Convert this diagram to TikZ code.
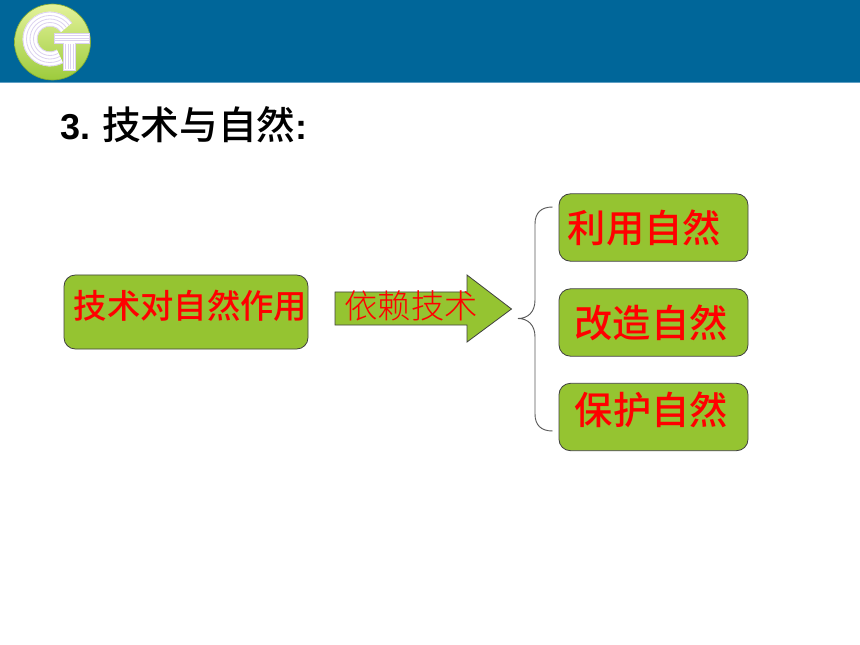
\documentclass[tikz,border=0pt]{standalone}
\usepackage{fontspec}
\setmainfont{Liberation Sans}
\newfontfamily\cjk{Noto Sans CJK SC Light}
\newfontfamily\cjkb{Noto Sans CJK SC Medium}
\definecolor{hdr}{HTML}{006699}
\definecolor{hdrl}{HTML}{5F9FC4}
\definecolor{boxg}{HTML}{95C431}
\definecolor{lav}{HTML}{DCD2F0}
\definecolor{logoa}{HTML}{E4F29A}
\definecolor{logob}{HTML}{9CCB3C}
\tikzset{
  x=0.75pt,y=-0.75pt,
  greenbox/.style={draw=black!75,line width=0.6pt,fill=boxg,rounded corners=8.5pt,inner sep=0pt,minimum width=#1*0.75pt},
  rtext/.style={text=red,inner sep=0pt,anchor=center},
  ring/.style={line width=0.6pt,draw=lav},
}
\begin{document}
\begin{tikzpicture}
\useasboundingbox (0,0) rectangle (860,645);
\fill[white] (0,0) rectangle (860,645);
\fill[hdr] (0,0) rectangle (860,82.5);
\fill[hdrl] (0,81.8) rectangle (860,82.6);
% logo
\shade[top color=logoa,bottom color=logob] (52.5,42) circle [radius=38];
\draw[logob!85!black,line width=0.5pt] (52.5,42) circle [radius=38];
\draw[white,line width=11pt] ({50+20*cos(35)},{39-20*sin(35)}) arc [start angle=35,end angle=300,radius=15pt];
\foreach \r in {27,23.5,20,16.5,13}{
  \draw[ring] ({50+\r*cos(35)},{39-\r*sin(35)}) arc [start angle=35,end angle=300,radius=\r*0.75pt];
}
\fill[white] (54,33) rectangle (89,43);
\fill[white] (63,33) rectangle (75,70);
\foreach \yy in {35.5,38,40.5}{\draw[lav,line width=0.5pt] (54,\yy) -- (89,\yy);}
\foreach \xx in {65.5,68,70.5,73}{\draw[lav,line width=0.5pt] (\xx,44) -- (\xx,69);}
\draw[lav,line width=0.5pt] (54,33) -- (89,33) -- (89,43) -- (75,43) -- (75,70) -- (63,70) -- (63,43) -- (54,43) -- cycle;
% title
\node[anchor=base west,inner sep=0pt,font=\fontsize{27}{30}\selectfont] (title) at (60,140)
  {\textbf{3.}\hspace{9pt}{\cjkb\fontsize{29}{30}\selectfont 技术与自然}\textbf{:}};
% boxes
\node[greenbox=244,minimum height=55.5pt] (src) at (186,312) {};
\node[greenbox=189,minimum height=50.5pt] (b1) at (653.5,227.5) {};
\node[greenbox=189,minimum height=50.5pt] (b2) at (653.5,322.5) {};
\node[greenbox=189,minimum height=50.5pt] (b3) at (653.5,417) {};
\node[rtext,font=\cjkb\fontsize{25}{28}\selectfont] (srct) at (190.5,306) {技术对自然作用};
\node[rtext,font=\cjkb\fontsize{28.7}{32}\selectfont] (t1) at (644.5,228) {利用自然};
\node[rtext,font=\cjkb\fontsize{28.7}{32}\selectfont] (t2) at (651,323) {改造自然};
\node[rtext,font=\cjkb\fontsize{28.7}{32}\selectfont] (t3) at (651.5,410) {保护自然};
% arrow
\draw[fill=boxg,draw=black!75,line width=0.6pt] (335,292) -- (467,292) -- (467,275) -- (511.5,309) -- (467,342) -- (467,325) -- (335,325) -- cycle;
\node[rtext,font=\cjk\fontsize{25}{28}\selectfont] (arrt) at (411,306) {依赖技术};
% brace
\coordinate (bt) at (552.5,207);
\coordinate (bm) at (518,318.5);
\coordinate (bb) at (552.5,431);
\draw[black!65,line width=0.7pt]
  (bt) .. controls (541,207) and (535,213) .. (535,224)
  -- (535,300) .. controls (535,312) and (528,318.5) .. (bm)
  .. controls (528,318.5) and (535,325) .. (535,337)
  -- (535,414) .. controls (535,425) and (541,431) .. (bb);
\end{tikzpicture}
\end{document}
